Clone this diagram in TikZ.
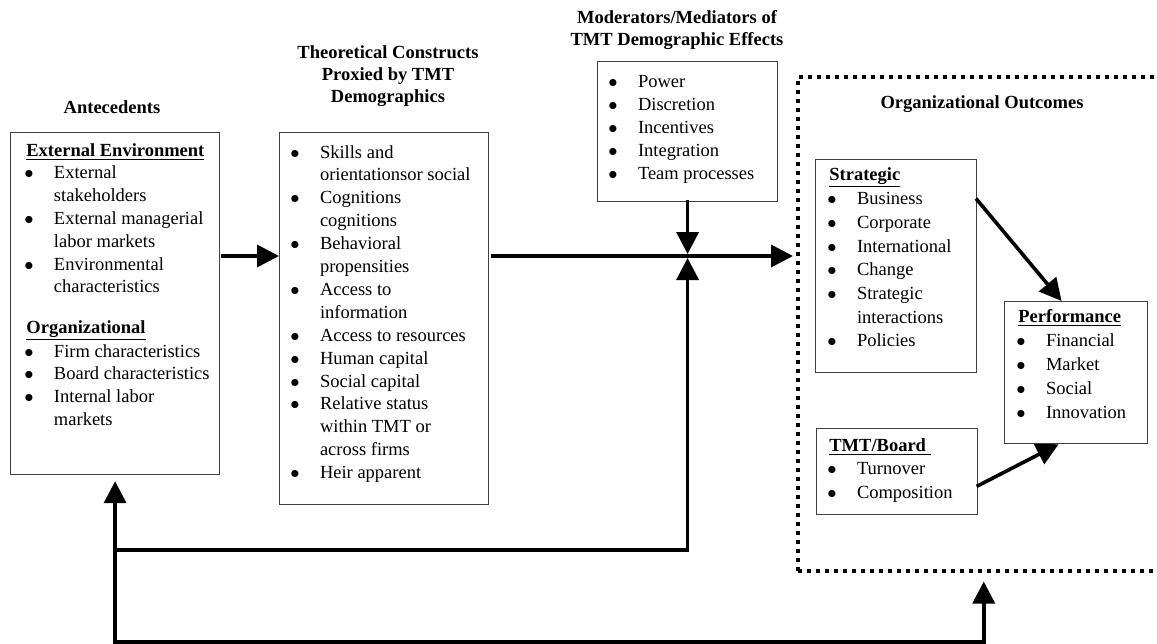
\documentclass[tikz,border=0pt]{standalone}
\usepackage{fontspec}
\setmainfont{Liberation Serif}
\usetikzlibrary{arrows.meta}

\newcommand{\bitem}{\makebox[13.8pt][l]{\hspace*{-1pt}$\bullet$}}
\newcommand{\bcont}{\hspace*{13.8pt}}
\newcommand{\bhead}[1]{\underline{\textbf{#1}}}

\begin{document}
\begin{tikzpicture}[x=0.5pt,y=-0.5pt,
    box/.style={draw=black!75, line width=0.6pt, inner sep=0pt, anchor=north west},
    outline/.style={draw, line width=1.75pt, dash pattern=on 2pt off 2.5pt, inner sep=0pt, anchor=north west},
    heading/.style={anchor=base, inner sep=0pt, font=\fontsize{9.25}{11}\selectfont\bfseries},
    itemlist/.style={anchor=base west, inner sep=0pt, font=\fontsize{9.25}{#1}\selectfont},
    arr/.style={line width=1.8pt, line cap=rect, -{Triangle[length=11pt,width=11pt]}}]
  \useasboundingbox (0,0) rectangle (1157,643);

  % boxes
  \node[outline, minimum width=186pt, minimum height=247pt] (outcomes) at (796,75) {};
  \node[box, minimum width=104.5pt, minimum height=171pt] (ante) at (10,132) {};
  \node[box, minimum width=104.5pt, minimum height=186pt] (theo) at (279,132) {};
  \node[box, minimum width=90pt, minimum height=70pt] (mod) at (597,61) {};
  \node[box, minimum width=80.5pt, minimum height=106.5pt] (strat) at (815,159) {};
  \node[box, minimum width=71.5pt, minimum height=71pt] (perf) at (1004,301) {};
  \node[box, minimum width=80.5pt, minimum height=43pt] (tmt) at (816,428) {};

  % titles
  \node[heading] (antetitle) at (112,113) {Antecedents};
  \node[heading] (theotitle) at (388,58) {\begin{tabular}[t]{@{}c@{}}Theoretical Constructs\\Proxied by TMT\\Demographics\end{tabular}};
  \node[heading] (modtitle) at (677,23) {\begin{tabular}[t]{@{}c@{}}Moderators/Mediators of\\TMT Demographic Effects\end{tabular}};
  \node[heading] (outtitle) at (982,108) {Organizational Outcomes};

  % lists
  \node[itemlist=11.4] (antelist) at (26,156) {\begin{tabular}[t]{@{}l@{}}
      \bhead{External Environment}\\
      \bitem External\\
      \bcont stakeholders\\
      \bitem External managerial\\
      \bcont labor markets\\
      \bitem Environmental\\
      \bcont characteristics\\[8.7pt]
      \bhead{Organizational}\\
      \bitem Firm characteristics\\
      \bitem Board characteristics\\
      \bitem Internal labor\\
      \bcont markets
    \end{tabular}};
  \node[itemlist=11.45] (theolist) at (292,158) {\begin{tabular}[t]{@{}l@{}}
      \bitem Skills and\\
      \bcont orientationsor social\\
      \bitem Cognitions\\
      \bcont cognitions\\
      \bitem Behavioral\\
      \bcont propensities\\
      \bitem Access to\\
      \bcont information\\
      \bitem Access to resources\\
      \bitem Human capital\\
      \bitem Social capital\\
      \bitem Relative status\\
      \bcont within TMT or\\
      \bcont across firms\\
      \bitem Heir apparent
    \end{tabular}};
  \node[itemlist=11.6] (modlist) at (610,87) {\begin{tabular}[t]{@{}l@{}}
      \bitem Power\\
      \bitem Discretion\\
      \bitem Incentives\\
      \bitem Integration\\
      \bitem Team processes
    \end{tabular}};
  \node[itemlist=11.85] (stratlist) at (829,180) {\begin{tabular}[t]{@{}l@{}}
      \bhead{Strategic}\\
      \bitem Business\\
      \bitem Corporate\\
      \bitem International\\
      \bitem Change\\
      \bitem Strategic\\
      \bcont interactions\\
      \bitem Policies
    \end{tabular}};
  \node[itemlist=12] (perflist) at (1018,322) {\begin{tabular}[t]{@{}l@{}}
      \bhead{Performance}\\
      \bitem Financial\\
      \bitem Market\\
      \bitem Social\\
      \bitem Innovation
    \end{tabular}};
  \node[itemlist=11.75] (tmtlist) at (829,451) {\begin{tabular}[t]{@{}l@{}}
      \bhead{TMT/Board\ }\\
      \bitem Turnover\\
      \bitem Composition
    \end{tabular}};

  % connectors
  \coordinate (mainrow) at (0,256);
  \coordinate (fbtop) at (0,550);
  \coordinate (fbbot) at (0,642);
  \coordinate (join) at (mod.south |- mainrow);

  \draw[arr] ([xshift=1.5pt]ante.east |- mainrow) -- (theo.west |- mainrow);
  \draw[arr] ([xshift=2pt]theo.east |- mainrow) -- ([xshift=-1.5pt]outcomes.west |- mainrow);
  \draw[arr] (mod.south) -- ([yshift=1pt]join);
  \draw[arr] (ante.south |- fbtop) -| ([yshift=-1pt]join);
  \draw[arr] (ante.south |- fbbot) -- ([yshift=-3pt]ante.south);
  \draw[arr] (ante.south |- fbbot) -| ([yshift=-4.5pt]outcomes.south);
  \draw[arr] ([yshift=-20.5pt]strat.north east) -- ([xshift=-7.25pt]perf.north);
  \draw[arr] ([yshift=-7pt]tmt.east) -- ([xshift=-8.75pt]perf.south);
\end{tikzpicture}
\end{document}
